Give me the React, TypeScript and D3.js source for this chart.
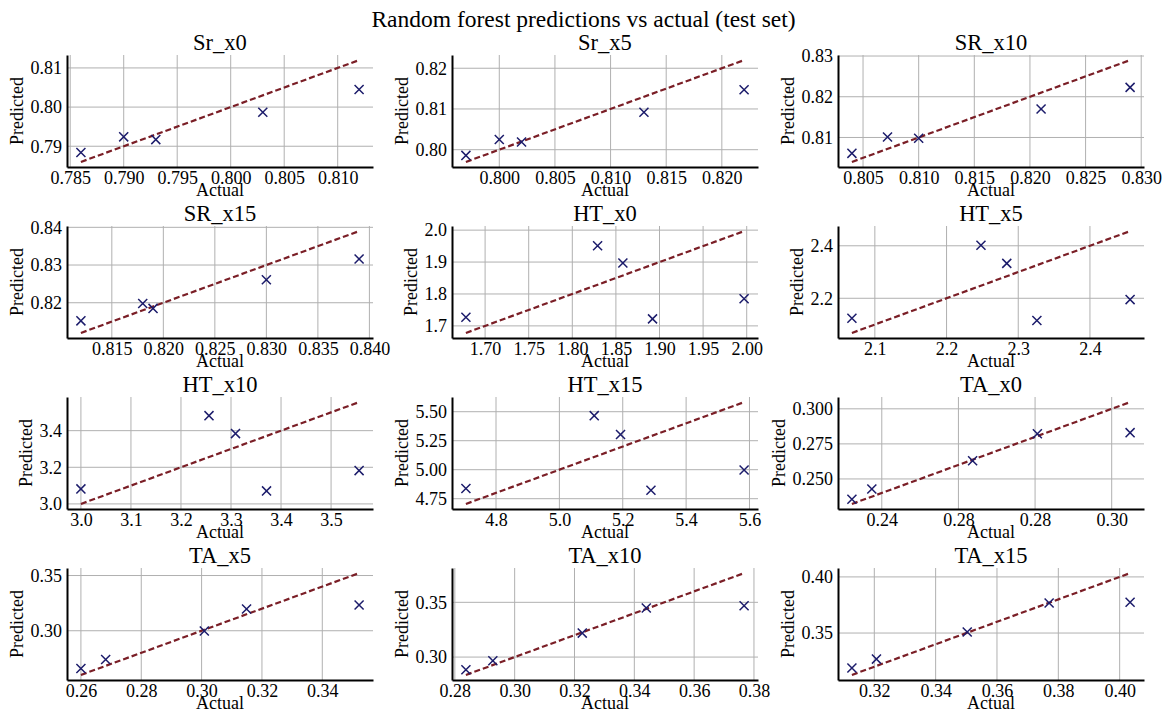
import React, { useEffect, useRef } from "react";
import * as d3 from "d3";

const panelNames = [
  "Sr_x0", "Sr_x5", "SR_x10",
  "SR_x15", "HT_x0", "HT_x5",
  "HT_x10", "HT_x15", "TA_x0",
  "TA_x5", "TA_x10", "TA_x15",
];

const actualValues = [
  [0.786, 0.790, 0.793, 0.803, 0.812],
  [0.797, 0.800, 0.802, 0.813, 0.822],
  [0.804, 0.8072, 0.810, 0.821, 0.829],
  [0.812, 0.818, 0.819, 0.830, 0.839],
  [1.678, 1.829, 1.858, 1.892, 1.997],
  [2.068, 2.248, 2.284, 2.326, 2.456],
  [3.0, 3.256, 3.309, 3.371, 3.556],
  [4.705, 5.11, 5.193, 5.289, 5.583],
  [0.2322, 0.2374, 0.2637, 0.2806, 0.3048],
  [0.260, 0.2682, 0.3009, 0.3149, 0.3522],
  [0.2837, 0.2927, 0.3226, 0.344, 0.3767],
  [0.3127, 0.3207, 0.3503, 0.377, 0.4034],
];

const predictedValues = [
  [0.7884, 0.7924, 0.7917, 0.7987, 0.8045],
  [0.7986, 0.8025, 0.8019, 0.8092, 0.8147],
  [0.8061, 0.8101, 0.8098, 0.817, 0.8223],
  [0.8152, 0.8198, 0.8185, 0.8261, 0.8316],
  [1.727, 1.951, 1.897, 1.722, 1.785],
  [2.124, 2.402, 2.333, 2.115, 2.195],
  [3.082, 3.482, 3.384, 3.071, 3.182],
  [4.838, 5.466, 5.304, 4.823, 4.997],
  [0.2355, 0.2428, 0.263, 0.2822, 0.283],
  [0.2658, 0.274, 0.2997, 0.3197, 0.3233],
  [0.2884, 0.2967, 0.3219, 0.3448, 0.3469],
  [0.3188, 0.3268, 0.3509, 0.3768, 0.3774],
];

const xTickValues = [
  [0.785, 0.79, 0.795, 0.8, 0.805, 0.81],
  [0.8, 0.805, 0.81, 0.815, 0.82],
  [0.805, 0.81, 0.815, 0.82, 0.825, 0.83],
  [0.815, 0.82, 0.825, 0.83, 0.835, 0.84],
  [1.7, 1.75, 1.8, 1.85, 1.9, 1.95, 2.0],
  [2.1, 2.2, 2.3, 2.4],
  [3.0, 3.1, 3.2, 3.3, 3.4, 3.5],
  [4.8, 5.0, 5.2, 5.4, 5.6],
  [0.24, 0.26, 0.28, 0.3],
  [0.26, 0.28, 0.3, 0.32, 0.34],
  [0.28, 0.3, 0.32, 0.34, 0.36, 0.38],
  [0.32, 0.34, 0.36, 0.38, 0.4],
];

const yTickValues = [
  [0.79, 0.8, 0.81],
  [0.8, 0.81, 0.82],
  [0.81, 0.82, 0.83],
  [0.82, 0.83, 0.84],
  [1.7, 1.8, 1.9, 2.0],
  [2.2, 2.4],
  [3.0, 3.2, 3.4],
  [4.75, 5.0, 5.25, 5.5],
  [0.25, 0.275, 0.3],
  [0.3, 0.35],
  [0.3, 0.35],
  [0.35, 0.4],
];

const xTickDigits = [3, 3, 3, 3, 2, 1, 1, 1, 2, 2, 2, 2];
const yTickDigits = [2, 2, 2, 2, 1, 1, 1, 2, 3, 2, 2, 2];

// the TA_x0 panel prints its second x label as 0.28 in the original
const xTickLabelOverride: { [k: number]: string[] } = {
  8: ["0.24", "0.28", "0.28", "0.30"],
};

const suptitle = "Random forest predictions vs actual (test set)";

const sizes = { width: 1167, height: 713 };
const colLefts = [67, 452, 838];
const rowTops = [55, 226, 397, 568];
const plotW = 306;
const plotH = 112;
const font = "Liberation Serif";
const tickSize = 18;

// rough width of a number string in the tick font
const textWidth = (s: string) =>
  s.split("").reduce((acc, c) => acc + (c === "." ? 0.25 : 0.5) * tickSize, 0);

export default function App() {
  const ref = useRef<SVGSVGElement>(null);

  useEffect(() => {
    const svg = d3.select(ref.current);
    svg.selectAll("*").remove();

    svg.append("rect")
      .attr("width", sizes.width)
      .attr("height", sizes.height)
      .attr("fill", "white");

    svg.append("text")
      .attr("x", sizes.width / 2)
      .attr("y", 27)
      .attr("text-anchor", "middle")
      .attr("font-family", font)
      .attr("font-size", "23.5px")
      .text(suptitle);

    panelNames.forEach((name, i) => {
      const left = colLefts[i % 3];
      const top = rowTops[Math.floor(i / 3)];
      const act = actualValues[i];
      const pred = predictedValues[i];

      const lo = d3.min([...act, ...pred]) as number;
      const hi = d3.max([...act, ...pred]) as number;
      const pad = (hi - lo) * 0.05;

      const x = d3.scaleLinear().domain([lo - pad, hi + pad]).range([0, plotW]);
      const y = d3.scaleLinear().domain([lo - pad, hi + pad]).range([plotH, 0]);

      const g = svg.append("g").attr("transform", `translate(${left},${top})`);

      // grid
      g.append("g")
        .selectAll("line")
        .data(xTickValues[i])
        .join("line")
        .attr("x1", (d) => x(d))
        .attr("x2", (d) => x(d))
        .attr("y1", 0)
        .attr("y2", plotH)
        .attr("stroke", "#b0b0b0")
        .attr("stroke-width", 1);

      g.append("g")
        .selectAll("line")
        .data(yTickValues[i])
        .join("line")
        .attr("x1", 0)
        .attr("x2", plotW)
        .attr("y1", (d) => y(d))
        .attr("y2", (d) => y(d))
        .attr("stroke", "#b0b0b0")
        .attr("stroke-width", 1);

      // identity line
      const line = d3.line<number>()
        .x((d) => x(d))
        .y((d) => y(d));

      g.append("path")
        .datum([lo, hi])
        .attr("d", line)
        .attr("fill", "none")
        .attr("stroke", "#7a1e26")
        .attr("stroke-width", 2.2)
        .attr("stroke-dasharray", "6,3");

      // points
      g.append("g")
        .selectAll("path")
        .data(act.map((a, j) => ({ a, p: pred[j] })))
        .join("path")
        .attr("transform", (d) => `translate(${x(d.a)},${y(d.p)})`)
        .attr("d", d3.symbol(d3.symbolTimes, 55)() as string)
        .attr("fill", "none")
        .attr("stroke", "#1c1c6b")
        .attr("stroke-width", 1.5);

      // axes
      const xFmt = d3.format(`.${xTickDigits[i]}f`);
      const yFmt = d3.format(`.${yTickDigits[i]}f`);
      const override = xTickLabelOverride[i];

      const xAxis = g.append("g")
        .attr("transform", `translate(0,${plotH})`)
        .call(
          d3.axisBottom(x)
            .tickValues(xTickValues[i])
            .tickSize(0)
            .tickPadding(4)
            .tickFormat((d, k) => (override ? override[k] : xFmt(d as number)))
        );
      xAxis.attr("font-family", font).attr("font-size", tickSize);
      xAxis.select(".domain").attr("stroke", "black").attr("stroke-width", 2);
      xAxis.selectAll("text").attr("fill", "black");

      const yAxis = g.append("g")
        .call(
          d3.axisLeft(y)
            .tickValues(yTickValues[i])
            .tickSize(0)
            .tickPadding(5)
            .tickFormat((d) => yFmt(d as number))
        );
      yAxis.attr("font-family", font).attr("font-size", tickSize);
      yAxis.select(".domain").attr("stroke", "black").attr("stroke-width", 2);
      yAxis.selectAll("text").attr("fill", "black");

      // labels
      const maxW = d3.max(yTickValues[i], (d) => textWidth(yFmt(d))) as number;
      const labelX = -5 - maxW - 8;

      g.append("text")
        .attr("transform", `translate(${labelX},${plotH / 2}) rotate(-90)`)
        .attr("text-anchor", "middle")
        .attr("font-family", font)
        .attr("font-size", "18px")
        .text("Predicted");

      g.append("text")
        .attr("x", plotW / 2)
        .attr("y", plotH + 29)
        .attr("text-anchor", "middle")
        .attr("font-family", font)
        .attr("font-size", "18px")
        .text("Actual");

      g.append("text")
        .attr("x", plotW / 2)
        .attr("y", -5)
        .attr("text-anchor", "middle")
        .attr("font-family", font)
        .attr("font-size", "22.5px")
        .text(name);
    });
  }, []);

  return (
    <svg
      ref={ref}
      width={sizes.width}
      height={sizes.height}
      style={{ position: "absolute", left: 0, top: 0 }}
    ></svg>
  );
}
